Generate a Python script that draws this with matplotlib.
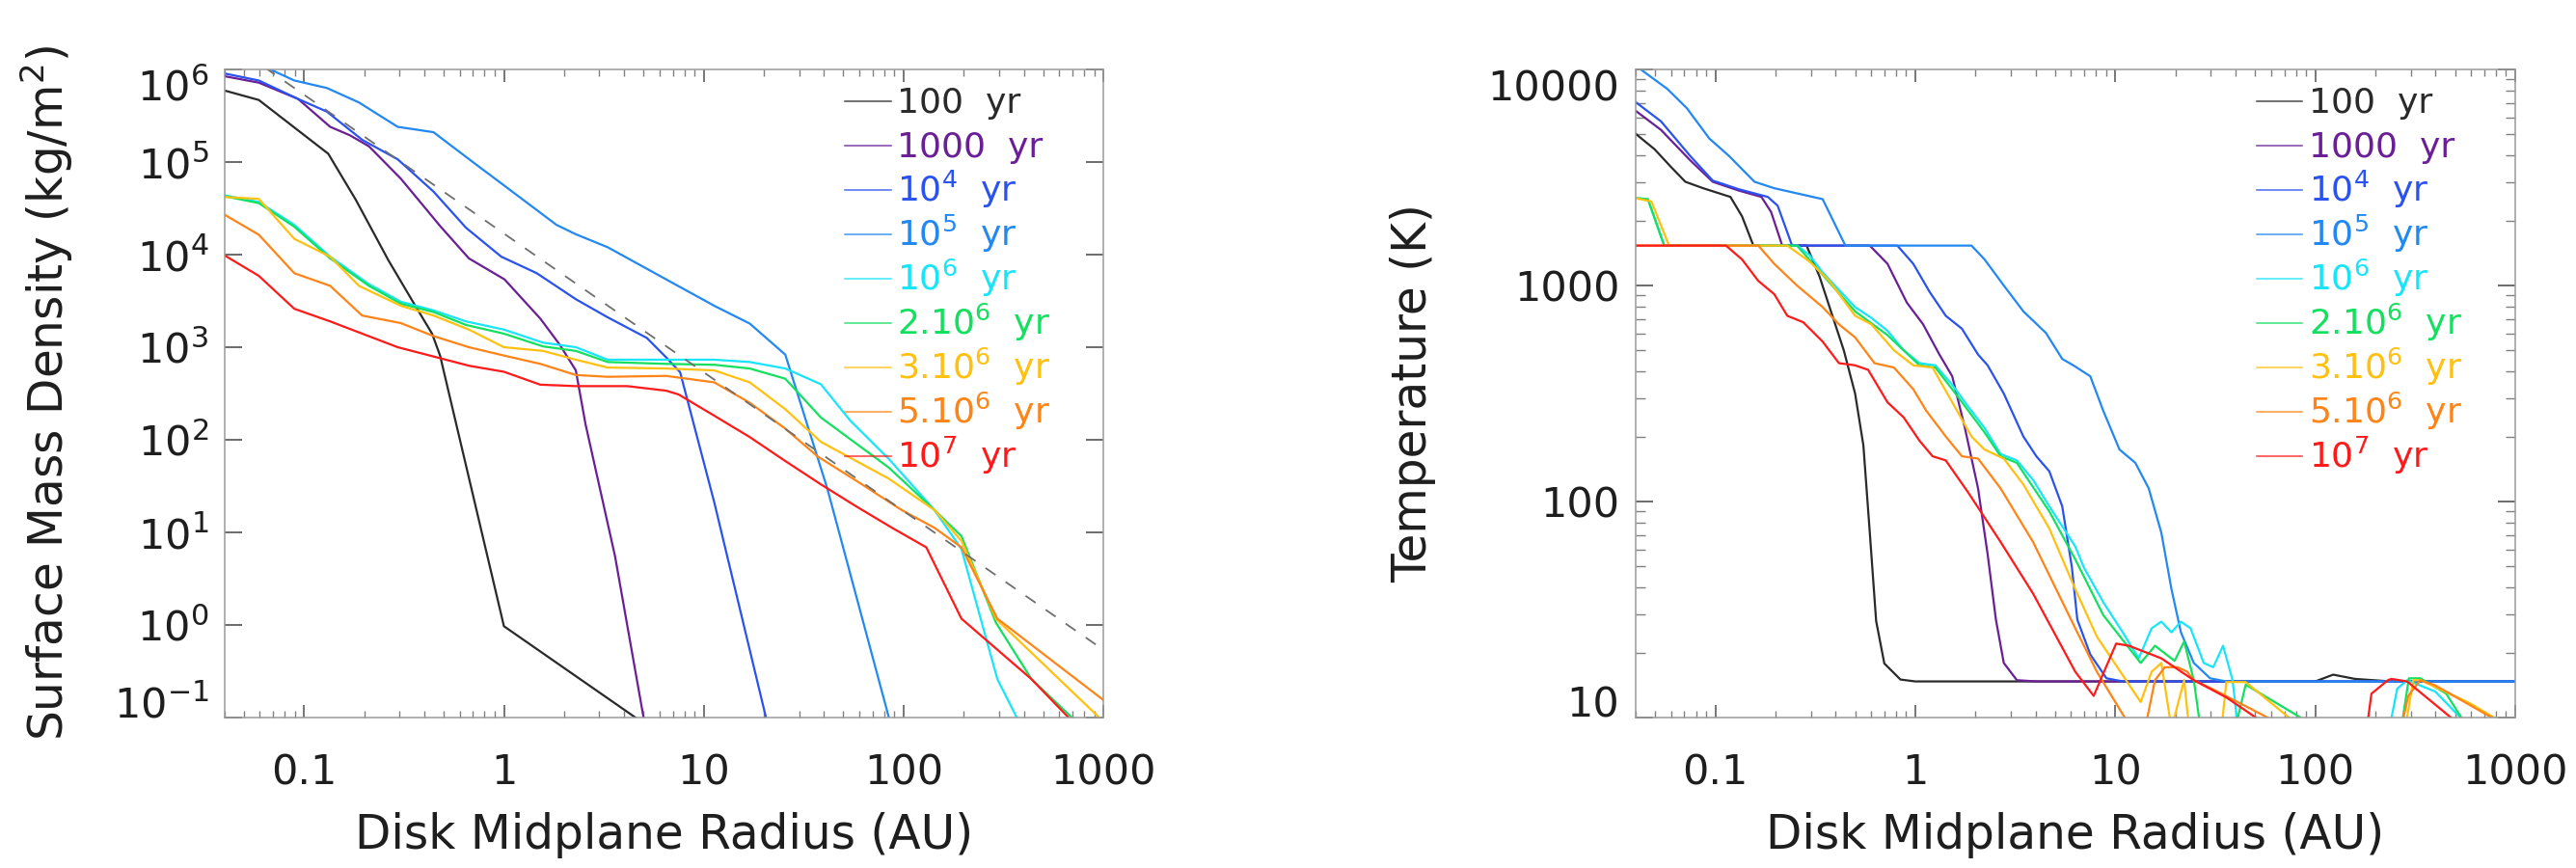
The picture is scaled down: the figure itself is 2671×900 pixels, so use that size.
import matplotlib.pyplot as plt
from matplotlib.ticker import FixedLocator, NullLocator, LogLocator, NullFormatter
from matplotlib.transforms import ScaledTranslation

plt.rcParams['font.family'] = 'DejaVu Sans'
plt.rcParams['mathtext.fontset'] = 'dejavusans'

labels = ["100  yr", "1000  yr", r"10$^{4}$  yr", r"10$^{5}$  yr", r"10$^{6}$  yr",
          r"2.10$^{6}$  yr", r"3.10$^{6}$  yr", r"5.10$^{6}$  yr", r"10$^{7}$  yr"]
colors = ["#2a2a2a", "#6a1f96", "#2a52ee", "#2288f2", "#18e4fa",
          "#14e060", "#ffc010", "#ff8418", "#ff1a1a"]

# ---- surface mass density (kg/m^2) vs radius (AU)
r_s0 = [0.0394, 0.0593, 0.132, 0.1815, 0.264, 0.355, 0.437, 0.479, 1.0, 5.0]
s_s0 = [5.97e5, 4.68e5, 1.23e5, 3.9e4, 8.7e3, 2.95e3, 1.4e3, 813, 0.97, 0.087]

r_s1 = [0.0394, 0.0593, 0.0933, 0.135, 0.169, 0.211, 0.305, 0.479, 0.668, 1.007, 1.52, 1.90, 2.29, 2.56, 3.6, 5.0, 5.25]
s_s1 = [8.5e5, 7.2e5, 4.8e5, 2.4e5, 1.95e5, 1.48e5, 6.6e4, 2.04e4, 9.1e3, 5.4e3, 2.04e3, 1.07e3, 562, 148, 5.5, 0.1, 0.06]

r_s2 = [0.0394, 0.0593, 0.0933, 0.130, 0.195, 0.294, 0.444, 0.646, 0.97, 1.46, 2.29, 3.31, 5.19, 6.49, 7.62, 11.3, 20.5, 21.4]
s_s2 = [9.1e5, 7.6e5, 4.8e5, 3.5e5, 1.74e5, 1.07e5, 4.8e4, 1.95e4, 9.5e3, 6.3e3, 3.3e3, 2.1e3, 1.26e3, 776, 537, 21, 0.1, 0.07]

r_s3 = [0.0394, 0.0664, 0.0893, 0.130, 0.188, 0.294, 0.444, 0.721, 1.0, 1.83, 2.29, 3.31, 6.49, 11.3, 17.0, 25.6, 41.6, 84.5, 89]
s_s3 = [1.7e6, 1.02e6, 7.6e5, 6.3e5, 4.4e5, 2.4e5, 2.1e5, 9.5e4, 5.6e4, 2.1e4, 1.66e4, 1.2e4, 5.4e3, 2.8e3, 1.8e3, 832, 29.5, 0.1, 0.07]

r_s4 = [0.0394, 0.0593, 0.0893, 0.135, 0.211, 0.305, 0.444, 0.646, 1.0, 1.57, 2.29, 3.31, 6.49, 11.3, 17.0, 25.6, 38.6, 54, 84.5, 143, 195, 295, 369, 398]
s_s4 = [4.4e4, 3.7e4, 2.1e4, 9.5e3, 4.8e3, 3.1e3, 2.5e3, 1.9e3, 1.55e3, 1.12e3, 1.0e3, 733, 733, 733, 692, 589, 398, 162, 62, 17.4, 6.6, 0.26, 0.1, 0.07]

r_s5 = [0.0394, 0.0593, 0.0893, 0.135, 0.211, 0.305, 0.444, 0.646, 1.0, 1.57, 2.29, 3.31, 6.49, 11.3, 17.0, 25.6, 38.6, 84.5, 143, 195, 290, 437, 697, 741]
s_s5 = [4.3e4, 3.6e4, 2.0e4, 9.1e3, 4.6e3, 2.95e3, 2.4e3, 1.74e3, 1.4e3, 1.02e3, 912, 692, 661, 646, 589, 457, 174, 50, 17.4, 9.1, 1.06, 0.26, 0.1, 0.07]

r_s6 = [0.0394, 0.0593, 0.0893, 0.135, 0.188, 0.305, 0.444, 0.668, 1.0, 1.57, 2.29, 3.31, 6.49, 11.3, 17.0, 25.6, 38.6, 84.5, 143, 195, 290, 955, 1000]
s_s6 = [4.2e4, 4.0e4, 1.48e4, 9.5e3, 4.6e3, 2.8e3, 2.2e3, 1.55e3, 1.0e3, 912, 733, 603, 589, 562, 417, 214, 95, 38, 17.4, 8.1, 1.17, 0.1, 0.09]

r_s7 = [0.0394, 0.0593, 0.0893, 0.135, 0.195, 0.305, 0.444, 0.668, 1.0, 1.52, 2.29, 3.31, 6.49, 11.3, 17.0, 25.6, 37.2, 58.2, 98, 143, 195, 295, 1000]
s_s7 = [2.75e4, 1.64e4, 6.3e3, 4.6e3, 2.2e3, 1.82e3, 1.32e3, 1.0e3, 813, 661, 501, 479, 490, 417, 251, 132, 66, 36, 17.4, 11.2, 6.9, 1.17, 0.155]

r_s8 = [0.0394, 0.0593, 0.0893, 0.135, 0.294, 0.444, 0.668, 1.0, 1.52, 2.29, 4.15, 6.49, 7.48, 11.3, 17.0, 25.6, 38.6, 58.2, 87.7, 130, 195, 437, 670, 708]
s_s8 = [1.0e4, 5.9e3, 2.6e3, 1.9e3, 1.0e3, 794, 631, 543, 394, 380, 380, 339, 309, 182, 107, 59, 33, 19, 11.2, 6.9, 1.17, 0.26, 0.1, 0.083]

# minimum mass solar nebula reference
mmsn_r = [0.04, 1000]
mmsn_sigma = [2.1e6, 0.54]

# ---- midplane temperature (K) vs radius (AU)
r_t0 = [0.0394, 0.0497, 0.0598, 0.0708, 0.0869, 0.119, 0.136, 0.155, 0.286, 0.332, 0.385, 0.439, 0.50, 0.55, 0.592, 0.637, 0.70, 0.843, 1.0, 100, 123, 158, 240, 1000]
t_t0 = [5090, 4270, 3550, 3020, 2820, 2570, 2090, 1530, 1530, 1100, 724, 501, 316, 182, 72, 28, 17.8, 15.0, 14.7, 14.7, 15.8, 15.1, 14.7, 14.7]

r_t1 = [0.0394, 0.0535, 0.0748, 0.097, 0.131, 0.17, 0.19, 0.216, 0.592, 0.726, 0.908, 1.094, 1.32, 1.53, 1.77, 2.06, 2.30, 2.53, 2.77, 3.22, 4.03, 1000]
t_t1 = [6500, 5250, 3800, 3020, 2750, 2570, 2190, 1530, 1530, 1260, 832, 661, 479, 380, 219, 115, 57, 28.4, 17.9, 14.9, 14.7, 14.7]

r_t2 = [0.0394, 0.0535, 0.0748, 0.097, 0.131, 0.183, 0.205, 0.242, 0.813, 0.977, 1.18, 1.42, 1.71, 2.06, 2.30, 2.77, 3.47, 4.03, 4.68, 5.43, 6.07, 6.46, 7.50, 9.04, 10.9, 1000]
t_t2 = [7130, 5750, 3980, 3060, 2790, 2570, 2340, 1530, 1530, 1260, 933, 724, 631, 479, 427, 316, 200, 162, 138, 95, 49.5, 28.4, 19.6, 15.2, 14.7, 14.7]

r_t3 = [0.0394, 0.0575, 0.0721, 0.0933, 0.117, 0.157, 0.197, 0.344, 0.447, 1.91, 2.22, 2.77, 3.47, 4.50, 5.43, 6.17, 7.50, 8.71, 10.5, 12.6, 14.7, 17.0, 19.1, 21.3, 24.7, 29.8, 35.9, 1000]
t_t3 = [10500, 8130, 6610, 4790, 3980, 3020, 2820, 2510, 1530, 1530, 1320, 1000, 759, 603, 457, 427, 380, 263, 174, 151, 115, 71.6, 39.3, 24.8, 17.9, 15.2, 14.7, 14.7]

r_t4 = [0.0394, 0.046, 0.0555, 0.257, 0.296, 0.344, 0.415, 0.50, 0.603, 0.726, 0.875, 1.05, 1.26, 1.53, 1.84, 2.22, 2.67, 3.22, 3.88, 4.68, 6.31, 6.97, 8.71, 10.9, 13.1, 15.2, 17.0, 19.1, 21.3, 23.8, 27.7, 30.9, 34.6, 38.6, 41.7, 229, 257, 288, 398, 562]
t_t4 = [2540, 2510, 1530, 1530, 1380, 1150, 955, 794, 708, 617, 501, 437, 427, 347, 275, 219, 166, 155, 126, 95, 62, 49.5, 34.2, 24.8, 18.8, 25.9, 27.8, 24.8, 27.8, 25.9, 17.9, 17.1, 21.5, 14.9, 7.9, 7.9, 13.6, 14.9, 13.2, 9.5]

r_t5 = [0.0394, 0.046, 0.0555, 0.256, 0.344, 0.50, 0.726, 1.05, 1.26, 1.53, 2.22, 2.67, 3.22, 4.68, 6.31, 8.71, 13.4, 15.8, 19.8, 22.1, 24.7, 26.7, 39.8, 44.9, 87.7, 93, 269, 294, 336, 452, 545, 603]
t_t5 = [2540, 2510, 1530, 1530, 1120, 759, 589, 427, 417, 331, 209, 162, 151, 90, 54, 29.8, 17.9, 21.5, 18.3, 22.5, 14.9, 8.9, 8.9, 14.2, 9.8, 7.9, 8.9, 15.2, 15.2, 12.9, 9.8, 7.9]

r_t6 = [0.0394, 0.0479, 0.0587, 0.229, 0.296, 0.372, 0.50, 0.603, 0.782, 0.977, 1.22, 1.53, 1.91, 2.22, 2.77, 3.47, 4.68, 6.31, 8.09, 13.4, 15.2, 17.0, 19.1, 22.1, 23.4, 34.0, 35.9, 44.9, 75.9, 79.4, 282, 309, 336, 589, 813, 891]
t_t6 = [2540, 2450, 1530, 1530, 1290, 1050, 724, 661, 501, 427, 417, 288, 200, 174, 158, 120, 75, 39.3, 23.7, 11.8, 16.3, 17.9, 8.9, 14.9, 8.9, 8.9, 14.6, 14.6, 9.8, 7.9, 8.9, 14.9, 14.9, 11.7, 9.8, 8.9]

r_t7 = [0.0394, 0.164, 0.197, 0.256, 0.344, 0.415, 0.50, 0.625, 0.782, 0.977, 1.135, 1.42, 1.71, 2.06, 2.67, 3.88, 6.31, 8.09, 11.3, 12.6, 14.4, 15.8, 17.7, 20.5, 22.9, 24.7, 30.9, 60.3, 66, 269, 292, 335, 398, 794, 891]
t_t7 = [1530, 1530, 1260, 1000, 794, 661, 575, 437, 417, 331, 263, 200, 162, 158, 115, 65, 25.9, 16.3, 9.8, 7.9, 9.8, 14.9, 17.1, 17.1, 16.3, 14.9, 13.5, 9.8, 7.9, 8.9, 12.6, 14.9, 14.1, 9.8, 7.9]

r_t8 = [0.0394, 0.113, 0.136, 0.164, 0.197, 0.229, 0.275, 0.344, 0.415, 0.50, 0.581, 0.726, 0.875, 1.05, 1.22, 1.42, 1.84, 2.67, 3.88, 6.31, 7.80, 10.1, 11.7, 17.0, 24.7, 35.9, 52.1, 56, 178, 191, 231, 240, 288, 490, 525]
t_t8 = [1530, 1530, 1320, 1050, 912, 724, 676, 550, 437, 427, 407, 288, 245, 191, 162, 155, 110, 65, 37.5, 16.3, 12.6, 22.0, 21.5, 18.8, 14.9, 12.4, 9.8, 7.9, 7.9, 12.9, 14.9, 15.1, 14.7, 9.8, 7.9]

sigma_r = [r_s0, r_s1, r_s2, r_s3, r_s4, r_s5, r_s6, r_s7, r_s8]
sigma_v = [s_s0, s_s1, s_s2, s_s3, s_s4, s_s5, s_s6, s_s7, s_s8]
temp_r = [r_t0, r_t1, r_t2, r_t3, r_t4, r_t5, r_t6, r_t7, r_t8]
temp_v = [t_t0, t_t1, t_t2, t_t3, t_t4, t_t5, t_t6, t_t7, t_t8]


def style_axes(ax, ylim, yticks, yticklabels, yminor):
    ax.set_xscale('log')
    ax.set_yscale('log')
    ax.set_xlim(0.04, 1000)
    ax.set_ylim(*ylim)
    ax.xaxis.set_major_locator(FixedLocator([0.1, 1, 10, 100, 1000]))
    ax.set_xticklabels(['0.1', '1', '10', '100', '1000'])
    ax.xaxis.set_minor_locator(LogLocator(base=10, subs=range(2, 10), numticks=30))
    ax.xaxis.set_minor_formatter(NullFormatter())
    ax.yaxis.set_major_locator(FixedLocator(yticks))
    ax.set_yticklabels(yticklabels)
    if yminor:
        ax.yaxis.set_minor_locator(LogLocator(base=10, subs=range(2, 10), numticks=30))
    else:
        ax.yaxis.set_minor_locator(NullLocator())
    ax.yaxis.set_minor_formatter(NullFormatter())
    for s in ax.spines.values():
        s.set_color('#9a9a9a')
        s.set_linewidth(1.1)
    ax.tick_params(axis='x', which='major', direction='in', length=9.5, width=1.2,
                   color='#606060', top=True, bottom=True, pad=26, labelsize=31,
                   labelcolor='#1e1e1e')
    ax.tick_params(axis='x', which='minor', direction='in', length=5, width=1.0,
                   color='#808080', top=True, bottom=True)
    ax.tick_params(axis='y', which='major', direction='in', length=13, width=1.3,
                   color='#606060', left=True, right=True, pad=12, labelsize=31,
                   labelcolor='#1e1e1e')
    ax.tick_params(axis='y', which='minor', direction='in', length=7, width=1.0,
                   color='#808080', left=True, right=True)
    ax.set_xlabel('Disk Midplane Radius (AU)', fontsize=35, color='#1e1e1e')
    ax.xaxis.set_label_coords(0.5, -0.146)
    # edge labels sit inside the frame like in the original
    ticks = ax.yaxis.get_major_ticks()
    ticks[-1].label1.set_transform(ticks[-1].label1.get_transform()
                                   + ScaledTranslation(0, -0.16, fig.dpi_scale_trans))
    ticks[0].label1.set_transform(ticks[0].label1.get_transform()
                                  + ScaledTranslation(0, 0.17, fig.dpi_scale_trans))


def draw_key(ax):
    for i, (lab, col) in enumerate(zip(labels, colors)):
        y = 0.9515 - i * 0.0685
        ax.plot([0.706, 0.758], [y, y], color=col, lw=1.1, alpha=0.85,
                transform=ax.transAxes, clip_on=False)
        ax.text(0.765, y - 0.0185, lab, color=col, fontsize=26, va='baseline',
                ha='left', transform=ax.transAxes)


fig = plt.figure(figsize=(26.71, 9), dpi=100)
ax1 = fig.add_axes([0.0872, 0.1733, 0.3411, 0.7467])
ax2 = fig.add_axes([0.635, 0.1733, 0.3414, 0.7467])

for rr, vv, col in zip(sigma_r, sigma_v, colors):
    ax1.plot(rr, vv, color=col, lw=1.6)
ax1.plot(mmsn_r, mmsn_sigma, color='#6e6e6e', lw=1.3, linestyle=(0, (7, 7)))

for rr, vv, col in zip(temp_r, temp_v, colors):
    ax2.plot(rr, vv, color=col, lw=1.6)

style_axes(ax1, (0.1, 1e6), [1e-1, 1e0, 1e1, 1e2, 1e3, 1e4, 1e5, 1e6],
           [r'$\mathdefault{10^{%d}}$' % k for k in range(-1, 7)], False)
style_axes(ax2, (10, 1e4), [10, 100, 1000, 10000], ['10', '100', '1000', '10000'], True)

ax1.set_ylabel(r'Surface Mass Density (kg/m$^{2}$)', fontsize=35, color='#1e1e1e')
ax1.yaxis.set_label_coords(-0.170, 0.5)
ax2.set_ylabel('Temperature (K)', fontsize=35, color='#1e1e1e')
ax2.yaxis.set_label_coords(-0.227, 0.5)

draw_key(ax1)
draw_key(ax2)

fig.savefig('out.png', dpi=100, facecolor='white')
